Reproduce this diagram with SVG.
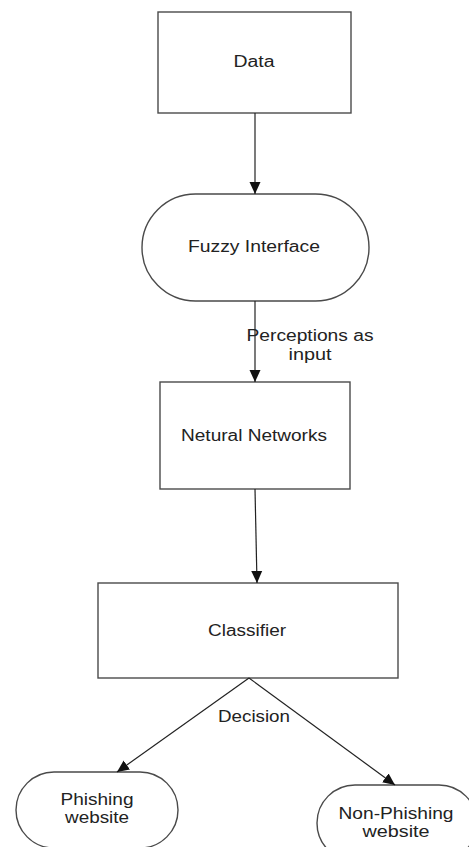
<svg xmlns="http://www.w3.org/2000/svg" width="469" height="847" viewBox="0 0 469 847">
<style>
.box{fill:#fff;stroke:#4a4a4a;stroke-width:1.4}
.lbl{font-family:"Liberation Sans",Arial,sans-serif;font-size:16px;fill:#222;text-anchor:middle}
.edge{fill:none;stroke:#222;stroke-width:1.2}
</style>
<defs>
<marker id="ah" markerUnits="userSpaceOnUse" markerWidth="12" markerHeight="12" viewBox="0 0 12 12" refX="12" refY="6" orient="auto">
<path d="M0,0.5 L12,6 L0,11.5 Z" fill="#111"/>
</marker>
</defs>
<rect width="469" height="847" fill="#fff"/>
<g id="data">
<rect class="box" x="158" y="12" width="193" height="101"/>
<text class="lbl" x="254" y="67" textLength="41" lengthAdjust="spacingAndGlyphs">Data</text>
</g>
<g id="fuzzy">
<rect class="box" x="142" y="194" width="227" height="107" rx="53.5" ry="53.5"/>
<text class="lbl" x="254" y="252" textLength="132" lengthAdjust="spacingAndGlyphs">Fuzzy Interface</text>
</g>
<g id="neural">
<rect class="box" x="160" y="382" width="190" height="107"/>
<text class="lbl" x="254" y="441" textLength="146" lengthAdjust="spacingAndGlyphs">Netural Networks</text>
</g>
<g id="classifier">
<rect class="box" x="98" y="583" width="300" height="95"/>
<text class="lbl" x="247" y="636" textLength="78" lengthAdjust="spacingAndGlyphs">Classifier</text>
</g>
<g id="phishing">
<rect class="box" x="16" y="772" width="162" height="76" rx="38" ry="38"/>
<text class="lbl" x="97" y="805" textLength="73" lengthAdjust="spacingAndGlyphs">Phishing</text>
<text class="lbl" x="97" y="823" textLength="64" lengthAdjust="spacingAndGlyphs">website</text>
</g>
<g id="nonphishing">
<rect class="box" x="317" y="785" width="160" height="76" rx="38" ry="38"/>
<text class="lbl" x="396" y="819" textLength="115" lengthAdjust="spacingAndGlyphs">Non-Phishing</text>
<text class="lbl" x="396" y="837" textLength="67" lengthAdjust="spacingAndGlyphs">website</text>
</g>
<g id="connectors">
<line class="edge" x1="255" y1="113" x2="255" y2="194" marker-end="url(#ah)"/>
<line class="edge" x1="255" y1="301" x2="255" y2="382" marker-end="url(#ah)"/>
<line class="edge" x1="255" y1="489" x2="257" y2="583" marker-end="url(#ah)"/>
<line class="edge" x1="249" y1="678" x2="117" y2="772" marker-end="url(#ah)"/>
<line class="edge" x1="249" y1="678" x2="395" y2="785" marker-end="url(#ah)"/>
<text class="lbl" x="310" y="341" textLength="127" lengthAdjust="spacingAndGlyphs">Perceptions as</text>
<text class="lbl" x="310" y="360" textLength="43" lengthAdjust="spacingAndGlyphs">input</text>
<text class="lbl" x="254" y="722" textLength="72" lengthAdjust="spacingAndGlyphs">Decision</text>
</g>
</svg>
